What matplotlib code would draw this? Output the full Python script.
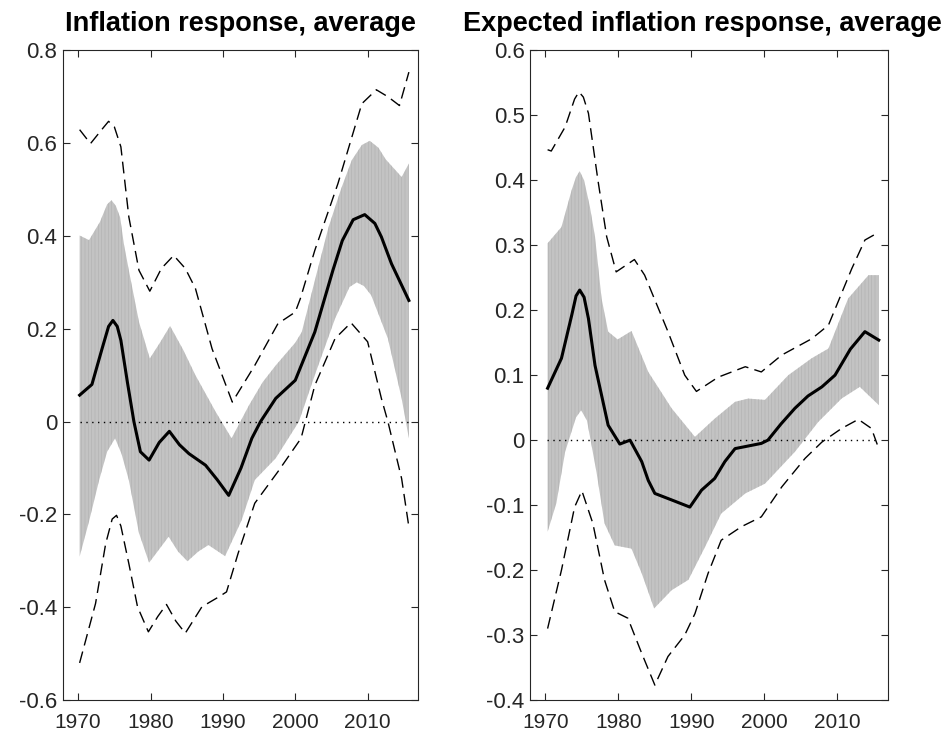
import numpy as np
import matplotlib
matplotlib.use('Agg')
import matplotlib.pyplot as plt
from matplotlib.ticker import FuncFormatter

plt.rcParams['font.family'] = ['Liberation Sans', 'DejaVu Sans']
plt.rcParams['hatch.linewidth'] = 0.4

# ---- left panel: inflation response ----
l_med_x = [1970.2, 1971.9, 1973.3, 1974.2, 1974.8, 1975.4, 1975.9, 1976.8, 1977.7, 1978.6, 1979.8,
           1981.2, 1982.6, 1984.0, 1985.3, 1987.6, 1989.2, 1990.8, 1992.5, 1994.0, 1995.2, 1997.3,
           2000.0, 2002.7, 2005.2, 2006.5, 2008.0, 2009.6, 2011.0, 2011.9, 2013.3, 2015.7]
l_med = [0.057, 0.080, 0.157, 0.205, 0.218, 0.205, 0.175, 0.085, 0.0, -0.065, -0.083,
         -0.045, -0.021, -0.050, -0.069, -0.094, -0.125, -0.159, -0.100, -0.036, 0.0, 0.050,
         0.089, 0.193, 0.326, 0.390, 0.435, 0.446, 0.427, 0.398, 0.340, 0.261]

l_up_x = [1970.2, 1971.5, 1973.0, 1974.0, 1974.6, 1975.2, 1975.8, 1976.3, 1977.0, 1978.4, 1979.9,
          1981.3, 1982.7, 1984.5, 1986.2, 1989.0, 1991.2, 1993.6, 1995.5, 1997.3, 2000.0, 2000.9,
          2002.8, 2004.6, 2006.3, 2007.8, 2009.2, 2010.3, 2011.5, 2012.5, 2014.7, 2015.7]
l_up = [0.401, 0.391, 0.430, 0.468, 0.477, 0.465, 0.440, 0.384, 0.326, 0.215, 0.136,
        0.170, 0.206, 0.155, 0.100, 0.021, -0.036, 0.035, 0.085, 0.121, 0.170, 0.193,
        0.310, 0.419, 0.500, 0.563, 0.596, 0.605, 0.590, 0.565, 0.527, 0.556]

l_lo_x = [1970.2, 1971.5, 1972.9, 1974.0, 1975.1, 1976.0, 1977.0, 1978.4, 1979.8, 1981.2, 1982.5,
          1983.8, 1985.1, 1986.6, 1988.0, 1990.3, 1992.6, 1994.4, 1997.3, 2000.5, 2002.7, 2005.5,
          2007.5, 2008.5, 2009.5, 2010.5, 2012.8, 2014.7, 2015.7]
l_lo = [-0.291, -0.215, -0.126, -0.065, -0.036, -0.070, -0.126, -0.240, -0.304, -0.275, -0.248,
        -0.280, -0.301, -0.280, -0.266, -0.290, -0.212, -0.126, -0.079, 0.0, 0.100, 0.222,
        0.290, 0.300, 0.292, 0.272, 0.179, 0.050, -0.036]

l_dup_x = [1970.2, 1971.7, 1973.3, 1974.2, 1975.0, 1975.9, 1977.0, 1978.4, 1979.9, 1981.5, 1983.2,
           1984.8, 1986.2, 1988.5, 1991.3, 1994.4, 1997.6, 2000.0, 2000.7, 2002.7, 2005.9, 2009.2,
           2011.2, 2012.8, 2014.4, 2015.7]
l_dup = [0.629, 0.599, 0.630, 0.647, 0.635, 0.592, 0.441, 0.326, 0.281, 0.330, 0.358,
         0.330, 0.287, 0.157, 0.042, 0.121, 0.211, 0.236, 0.265, 0.369, 0.513, 0.685,
         0.715, 0.700, 0.681, 0.753]

l_dlo_x = [1970.2, 1972.4, 1973.8, 1974.7, 1975.3, 1975.9, 1977.0, 1978.2, 1979.7, 1981.0, 1982.2,
           1983.5, 1984.8, 1987.1, 1989.4, 1990.5, 1992.1, 1994.4, 1997.6, 2000.8, 2002.7, 2005.5,
           2007.7, 2010.0, 2011.9, 2012.8, 2014.7, 2015.7]
l_dlo = [-0.520, -0.392, -0.263, -0.210, -0.202, -0.225, -0.306, -0.399, -0.453, -0.420, -0.394,
         -0.430, -0.456, -0.399, -0.378, -0.367, -0.284, -0.176, -0.108, -0.036, 0.078, 0.179,
         0.213, 0.172, 0.050, 0.0, -0.123, -0.227]

# ---- right panel: expected inflation response ----
r_med_x = [1970.3, 1972.2, 1973.6, 1974.2, 1974.7, 1975.3, 1975.9, 1976.8, 1978.6, 1980.2, 1981.6,
           1983.2, 1984.1, 1985.0, 1987.3, 1989.8, 1991.4, 1993.2, 1994.6, 1996.0, 1999.6, 2000.5,
           2002.3, 2004.2, 2006.0, 2007.9, 2009.7, 2011.8, 2013.8, 2015.7]
r_med = [0.080, 0.126, 0.192, 0.222, 0.231, 0.220, 0.187, 0.115, 0.023, -0.006, 0.0,
         -0.033, -0.062, -0.082, -0.092, -0.103, -0.077, -0.059, -0.033, -0.013, -0.005, 0.0,
         0.025, 0.049, 0.068, 0.082, 0.100, 0.140, 0.167, 0.154]

r_up_x = [1970.3, 1972.2, 1973.6, 1974.2, 1974.7, 1975.3, 1976.1, 1976.8, 1977.7, 1978.6, 1979.9,
          1981.8, 1984.1, 1987.3, 1990.5, 1993.2, 1996.0, 1997.8, 2000.1, 2003.3, 2006.5, 2008.8,
          2011.5, 2014.3, 2015.7]
r_up = [0.303, 0.328, 0.385, 0.405, 0.414, 0.400, 0.359, 0.313, 0.218, 0.167, 0.155,
        0.168, 0.105, 0.049, 0.005, 0.033, 0.059, 0.064, 0.062, 0.100, 0.126, 0.141,
        0.218, 0.254, 0.254]

r_lo_x = [1970.3, 1971.5, 1972.7, 1974.2, 1974.9, 1975.7, 1977.0, 1978.1, 1979.5, 1981.8, 1983.2,
          1984.9, 1987.3, 1989.6, 1991.9, 1994.1, 1997.4, 2000.1, 2004.2, 2007.4, 2010.6, 2013.1,
          2015.7]
r_lo = [-0.141, -0.097, -0.018, 0.035, 0.046, 0.030, -0.049, -0.128, -0.162, -0.167, -0.205,
        -0.259, -0.231, -0.215, -0.164, -0.113, -0.082, -0.067, -0.018, 0.028, 0.064, 0.082,
        0.054]

r_dup_x = [1970.3, 1970.8, 1972.7, 1974.0, 1974.6, 1975.2, 1975.9, 1977.2, 1978.4, 1979.7, 1982.2,
           1983.6, 1986.8, 1989.1, 1990.7, 1993.7, 1997.4, 1999.6, 2002.4, 2006.5, 2008.8, 2012.0,
           2013.8, 2015.7]
r_dup = [0.447, 0.445, 0.482, 0.525, 0.536, 0.528, 0.503, 0.400, 0.313, 0.259, 0.278,
         0.254, 0.167, 0.100, 0.075, 0.097, 0.113, 0.105, 0.131, 0.156, 0.177, 0.264,
         0.308, 0.320]

r_dlo_x = [1970.3, 1972.2, 1974.0, 1975.0, 1976.5, 1978.1, 1979.5, 1981.3, 1983.2, 1985.0, 1986.8,
           1989.1, 1990.5, 1992.3, 1994.1, 1996.9, 1999.6, 2002.4, 2005.6, 2007.9, 2010.6, 2012.9,
           2014.7, 2015.6]
r_dlo = [-0.290, -0.200, -0.103, -0.078, -0.128, -0.215, -0.264, -0.274, -0.328, -0.377, -0.333,
         -0.300, -0.267, -0.205, -0.154, -0.133, -0.118, -0.072, -0.028, -0.003, 0.018, 0.032,
         0.018, -0.010]

sample = [1970.25, 2015.75]
xticks = [1970, 1980, 1990, 2000, 2010]

panels = [
    dict(title='Inflation response, average', med=(l_med_x, l_med), up=(l_up_x, l_up),
         lo=(l_lo_x, l_lo), dup=(l_dup_x, l_dup), dlo=(l_dlo_x, l_dlo),
         ylim=(-0.6, 0.8), yticks=np.arange(-0.6, 0.81, 0.2), tx=0.5),
    dict(title='Expected inflation response, average', med=(r_med_x, r_med), up=(r_up_x, r_up),
         lo=(r_lo_x, r_lo), dup=(r_dup_x, r_dup), dlo=(r_dlo_x, r_dlo),
         ylim=(-0.4, 0.6), yticks=np.arange(-0.4, 0.61, 0.1), tx=0.48),
]
positions = [[0.0663, 0.054, 0.374, 0.878], [0.558, 0.054, 0.377, 0.878]]

def fmt(v, pos):
    s = '%g' % round(v, 2)
    return '0' if s in ('0', '-0') else s

fig = plt.figure(figsize=(9.5, 7.4), dpi=100)
dark = '#262626'
for p, pos in zip(panels, positions):
    ax = fig.add_axes(pos)
    ux, uy = p['up']
    lx, ly = p['lo']
    band_x = np.concatenate([ux, lx[::-1]])
    band_y = np.concatenate([uy, ly[::-1]])
    ax.fill(band_x, band_y, facecolor='#c3c3c3', edgecolor='#b0b0b0', hatch='|||||', lw=0)
    ax.plot(sample, [0, 0], color='k', lw=1.0, dashes=(1, 3.2))
    ax.plot(*p['dup'], color='k', lw=1.0, dashes=(8.5, 4.5))
    ax.plot(*p['dlo'], color='k', lw=1.0, dashes=(8.5, 4.5))
    ax.plot(*p['med'], color='k', lw=2.2)
    ax.set_xlim(1967.9, 2017.0)
    ax.set_ylim(*p['ylim'])
    ax.set_xticks(xticks)
    ax.set_yticks(p['yticks'])
    ax.yaxis.set_major_formatter(FuncFormatter(fmt))
    ax.tick_params(direction='in', top=True, right=True, length=5, width=0.8,
                   color=dark, labelcolor=dark)
    ax.tick_params(axis='x', labelsize=15, pad=9)
    ax.tick_params(axis='y', labelsize=16, pad=4)
    for s in ax.spines.values():
        s.set_color(dark)
        s.set_linewidth(0.8)
    ax.set_title(p['title'], fontsize=19.5, fontweight='bold', pad=14, x=p['tx'])

fig.savefig('out.png', dpi=100)
